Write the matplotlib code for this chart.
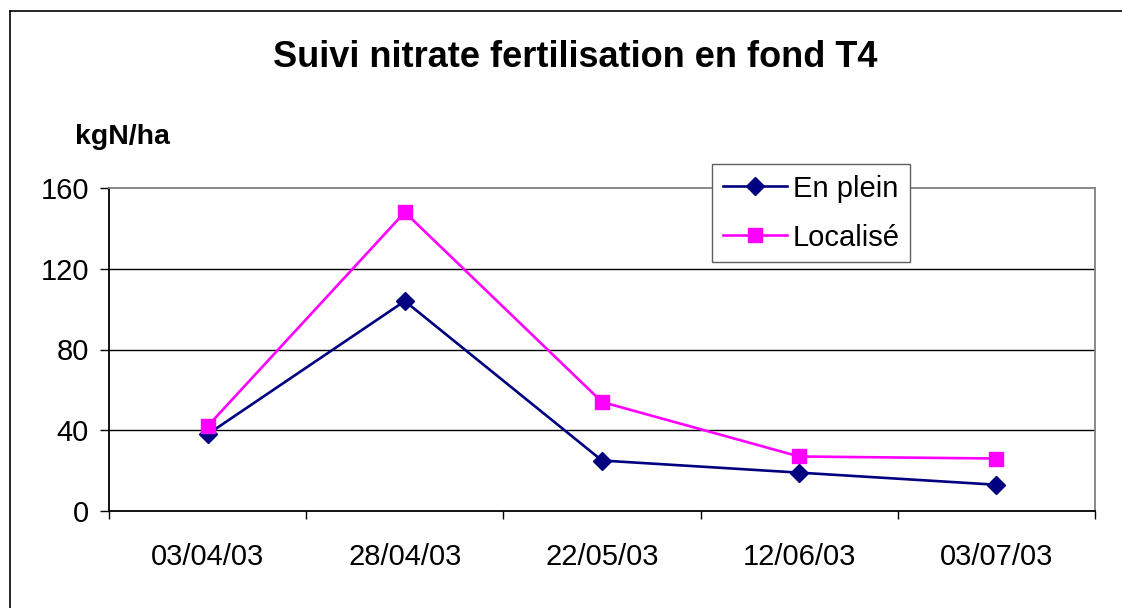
#!/usr/bin/env python

import matplotlib
matplotlib.use('Agg')
import matplotlib.pyplot as plt
from matplotlib.lines import Line2D
import numpy as np

# data
dates = ['03/04/03', '28/04/03', '22/05/03', '12/06/03', '03/07/03']
en_plein = [38, 104, 25, 19, 13]
localise = [42, 148, 54, 27, 26]
yticks = [0, 40, 80, 120, 160]

plt.rcParams['font.family'] = ['Liberation Sans', 'DejaVu Sans']


def main():
    fig = plt.figure(figsize=(11.22, 6.08), dpi=100)
    W, H = 1122, 608

    # outer chart frame (left and top edges only visible)
    fig.add_artist(Line2D([10/W, 10/W], [0, 1 - 11/H], color='black', lw=1.2))
    fig.add_artist(Line2D([10/W, 1], [1 - 11/H, 1 - 11/H], color='black', lw=1.2))

    ax = fig.add_axes([109/W, 1 - 511/H, (1095 - 109)/W, (511 - 188)/H])

    x = np.arange(len(dates))
    ax.plot(x, en_plein, color='#000080', lw=1.9, marker='D', markersize=9.5,
            label='En plein', zorder=3)
    ax.plot(x, localise, color='#FF00FF', lw=1.9, marker='s', markersize=10,
            label='Localisé', zorder=3)

    ax.set_xlim(-0.5, len(dates) - 0.5)
    ax.set_ylim(0, 160)

    # gridlines
    for v in yticks[1:-1]:
        ax.axhline(v, color='black', lw=1.0, zorder=1)

    # axes spines
    ax.spines['left'].set_color('black')
    ax.spines['bottom'].set_color('black')
    ax.spines['top'].set_color('#808080')
    ax.spines['right'].set_color('#808080')
    for s in ax.spines.values():
        s.set_linewidth(1.3)

    # ticks
    ax.set_yticks(yticks)
    ax.tick_params(axis='y', direction='out', length=6.5, width=1.0,
                   pad=8, labelsize=21)
    ax.set_xticks(x)
    ax.set_xticklabels(dates)
    ax.set_xticks(np.arange(-0.5, len(dates), 1.0), minor=True)
    ax.tick_params(axis='x', which='major', length=0, pad=23, labelsize=21)
    ax.tick_params(axis='x', which='minor', direction='out', length=6, width=1.0)

    ax.legend(loc='upper left', bbox_to_anchor=(0.6116, 1.074),
              borderaxespad=0, fontsize=21, frameon=True, fancybox=False,
              edgecolor='#606060', framealpha=1, handlelength=2.2,
              handletextpad=0.2, borderpad=0.36, labelspacing=0.72)

    fig.text(575/W, 1 - 67/H, 'Suivi nitrate fertilisation en fond T4',
             ha='center', va='baseline', fontsize=26, fontweight='bold')
    fig.text(75/W, 1 - 144/H, 'kgN/ha', ha='left', va='baseline',
             fontsize=20.5, fontweight='bold')

    fig.savefig('out.png', dpi=100)


if __name__ == '__main__':
    main()
